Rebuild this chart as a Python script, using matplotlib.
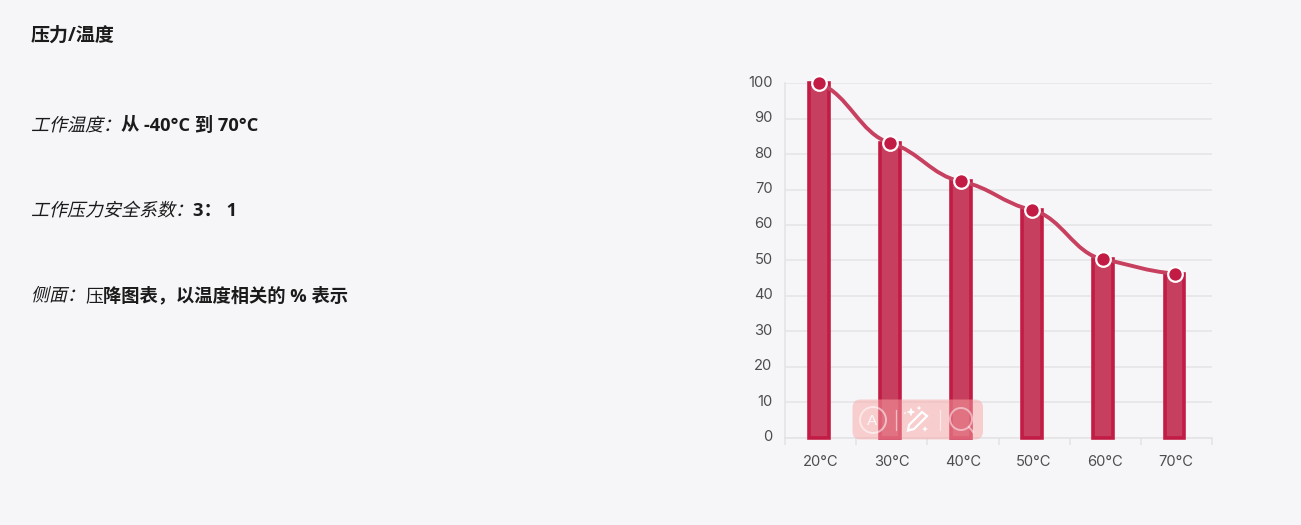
import matplotlib
matplotlib.use("Agg")
import matplotlib.pyplot as plt
import matplotlib.patheffects as pe
from matplotlib.path import Path
from matplotlib.patches import PathPatch, FancyBboxPatch, Circle, Polygon
from matplotlib.lines import Line2D
from matplotlib.transforms import Affine2D, ScaledTranslation

categories = ["20°C", "30°C", "40°C", "50°C", "60°C", "70°C"]
values = [100, 83.2, 72.3, 64.2, 50.3, 46.3]
y_ticks = [0, 10, 20, 30, 40, 50, 60, 70, 80, 90, 100]

title = "压力/温度"
rows = [
    (124, [("工作温度：", "i"), ("从 -40°C 到 70°C", "b")]),
    (209, [("工作压力安全系数：", "i"), ("3： 1", "b")]),
    (294, [("侧面：", "i"), ("压", "r"), ("降图表，以温度相关的 % 表示", "b")]),
]

W, H = 1301, 525
BG = "#f6f6f9"
FONT = ["Open Sans", "Noto Sans CJK SC"]
TXT = "#1b1b1b"


class Skew(pe.AbstractPathEffect):
    def draw_path(self, renderer, gc, tpath, affine, rgbFace=None):
        m = affine.get_matrix()
        x0, y0 = m[0, 2], m[1, 2]
        skewed = affine + Affine2D().translate(-x0, -y0).skew_deg(13, 0).translate(x0, y0)
        renderer.draw_path(gc, tpath, skewed, rgbFace)


fig = plt.figure(figsize=(W / 100, H / 100), dpi=100, facecolor=BG)
L, R, T, B = 785, 1212, 83.3, 437.6
ax = fig.add_axes([L / W, 1 - B / H, (R - L) / W, (B - T) / H], facecolor="none")
x = list(range(len(categories)))
left = -(818.7 - L) / ((R - L) / 6)
ax.set_xlim(left, left + 6)
ax.set_ylim(0, 100)

for s in ["top", "right"]:
    ax.spines[s].set_visible(False)
for s in ["left", "bottom"]:
    ax.spines[s].set_color("#e3e3e6")
    ax.spines[s].set_linewidth(1.1)
    ax.spines[s].set_zorder(1)

ax.set_axisbelow(True)
ax.yaxis.grid(True, color="#e5e5e8", lw=1.1)
ax.set_yticks(y_ticks)
ax.set_xticks(x)
ax.set_xticklabels(categories)
ax.set_xticks([left + k for k in range(7)], minor=True)
ax.tick_params(axis="x", which="major", length=0, pad=12.5, labelsize=10.6, labelcolor="#4d4d4d")
ax.tick_params(axis="x", which="minor", length=5, width=1.1, color="#e3e3e6")
ax.tick_params(axis="y", length=0, pad=9, labelsize=10.6, labelcolor="#4d4d4d")
for lab in ax.get_xticklabels():
    lab.set_fontfamily("Inter")
    lab.set_transform(lab.get_transform() + ScaledTranslation(1.2 / 72, 0, fig.dpi_scale_trans))
for lab in ax.get_yticklabels():
    lab.set_fontfamily("Inter")
    lab.set_transform(lab.get_transform() + ScaledTranslation(0, 1.5 / 72, fig.dpi_scale_trans))

ax.bar(x, values, width=19.8 / ((R - L) / 6), facecolor="#c73f5f", edgecolor="#c21c44",
       linewidth=2.6, zorder=2, clip_on=False)

# smooth line through the values
verts = [(x[0], values[0])]
codes = [Path.MOVETO]
k = 0.42
dx = 0.42
slopes = []
for i in range(len(x)):
    a = values[max(i - 1, 0)]
    b = values[min(i + 1, len(x) - 1)]
    slopes.append(k * (b - a) / (min(i + 1, len(x) - 1) - max(i - 1, 0)))
for i in range(len(x) - 1):
    verts += [(x[i] + dx, values[i] + slopes[i] * dx),
              (x[i + 1] - dx, values[i + 1] - slopes[i + 1] * dx),
              (x[i + 1], values[i + 1])]
    codes += [Path.CURVE4] * 3
ax.add_patch(PathPatch(Path(verts, codes), fc="none", ec="#c8405f", lw=2.8, zorder=3, clip_on=False))
ax.plot(x, values, ls="none", marker="o", ms=10.5, mfc="#c21c44", mec="white", mew=1.6,
        zorder=4, clip_on=False)

# left text block
fig.canvas.draw()
renderer = fig.canvas.get_renderer()
SIZE = 18 * 0.72


def put(px, py, s, style, size=None):
    if size is None:
        size = 18.3 * 0.72 if style == "b" else SIZE
    t = fig.text(px / W, 1 - py / H, s, fontsize=size, family=FONT, color=TXT, va="baseline",
                 fontweight="bold" if style == "b" else "normal")
    w = t.get_window_extent(renderer).width
    if style == "i":
        t.set_path_effects([Skew()])
    return px + w


put(31, 41, title, "b", 19 * 0.72)
for py, segs in rows:
    cx = 31
    for s, style in segs:
        cx = put(cx, py + 7, s, style)

# floating toolbar overlay
px = Affine2D().scale(1, -1).translate(0, H)
Z = 10
def add(a):
    a.set_transform(px)
    a.set_zorder(Z)
    fig.add_artist(a)

add(FancyBboxPatch((859.5, 406.5), 116.5, 26, boxstyle="round,pad=7,rounding_size=8",
                   lw=0, fc="#f9a5a5", alpha=0.5))
WH = "white"
add(Circle((873, 420), 13, fc="none", ec=WH, lw=1.4, alpha=0.55))
add(Line2D([895.7, 895.7], [410, 430], color=WH, lw=0.9, alpha=0.55))
add(Line2D([939.7, 939.7], [410, 430], color=WH, lw=0.9, alpha=0.55))
add(Polygon([(909, 425), (922, 412), (927, 416), (914, 429), (908, 430.5)], closed=True,
            fc="none", ec=WH, lw=1.6))
for sx, sy, r in [(911, 412, 4.5), (919, 408, 2.5), (925, 429, 3), (905, 413, 1.5)]:
    add(Polygon([(sx, sy - r), (sx + r * .3, sy - r * .3), (sx + r, sy), (sx + r * .3, sy + r * .3),
                 (sx, sy + r), (sx - r * .3, sy + r * .3), (sx - r, sy), (sx - r * .3, sy - r * .3)],
                closed=True, fc=WH, lw=0))
add(Circle((961, 419), 11, fc="none", ec=WH, lw=1.4, alpha=0.5))
add(Line2D([969, 973], [427, 432], color=WH, lw=1.4, alpha=0.5))
fig.text(872.5 / W, 1 - 425 / H, "A", fontsize=11, color=WH, ha="center", va="baseline",
         family="Liberation Sans", alpha=0.85, zorder=Z)

fig.savefig("out.png", dpi=100, facecolor=BG)
